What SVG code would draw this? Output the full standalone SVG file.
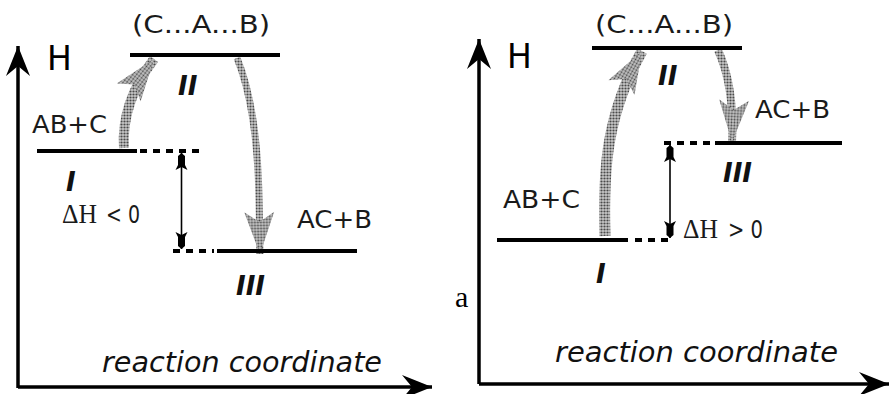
<svg xmlns="http://www.w3.org/2000/svg" width="895" height="394" viewBox="0 0 895 394">
<style>
.lbl{font-family:"DejaVu Sans",sans-serif;font-size:24px;fill:#1a1a1a}
.h{font-family:"DejaVu Sans",sans-serif;font-size:33px;fill:#000}
.num{font-family:"DejaVu Sans",sans-serif;font-weight:bold;font-style:italic;font-size:26px;fill:#111}
.rc{font-family:"DejaVu Sans",sans-serif;font-style:italic;font-size:24px;fill:#111}
.ser{font-family:"Liberation Serif",serif;font-size:27px;fill:#1a1a1a}
.axis{stroke:#000;stroke-width:3.5;fill:none}
.lvl{stroke:#000;stroke-width:4;fill:none}
.dash{stroke:#000;stroke-width:4;fill:none;stroke-dasharray:7 6}
.thin{stroke:#000;stroke-width:1.6;fill:none}
.gray{stroke:url(#dither);fill:none;stroke-linecap:butt}
</style>
<defs>
<pattern id="dither" width="3" height="3" patternUnits="userSpaceOnUse">
<rect width="3" height="3" fill="#c8c8c8"/>
<circle cx="1.5" cy="1.5" r="1.1" fill="#4a4a4a"/>
</pattern>
<marker id="gh" markerUnits="userSpaceOnUse" viewBox="-44 -16 46 32" refX="0" refY="0" markerWidth="46" markerHeight="32" orient="auto">
<path d="M0,0 L-42,-15 L-32,0 L-42,15 Z" fill="url(#dither)"/>
</marker>
<marker id="bh" markerUnits="userSpaceOnUse" viewBox="-18 -8 19 16" refX="0" refY="0" markerWidth="19" markerHeight="16" orient="auto-start-reverse">
<path d="M0,0 L-3,-3.5 L-12,-3.5 L-17,-6 L-14,0 L-17,6 L-12,3.5 L-3,3.5 Z" fill="#000"/>
</marker>
<marker id="ah" markerUnits="userSpaceOnUse" viewBox="-32 -15 33 30" refX="0" refY="0" markerWidth="33" markerHeight="30" orient="auto">
<path d="M0,0 L-30,-12 L-20,0 L-30,12 Z" fill="#000"/>
</marker>
</defs>

<g id="connectors">
<path class="axis" d="M18,388 L18,46" marker-end="url(#ah)"/>
<path class="axis" d="M18,387 L432,387" marker-end="url(#ah)"/>
<path class="axis" d="M479,384 L479,39" marker-end="url(#ah)"/>
<path class="axis" d="M479,384 L889,384" marker-end="url(#ah)"/>
<path class="gray" stroke-width="10" d="M124,148 C122,118 132,88 154,59" marker-end="url(#gh)"/>
<path class="gray" stroke-width="7" d="M237,58 C251,92 258,140 259,200 L260,254" marker-end="url(#gh)"/>
<path class="gray" stroke-width="11" d="M605,236 C603,170 606,115 642,51" marker-end="url(#gh)"/>
<path class="gray" stroke-width="8" d="M718,50 C728,72 734,102 732,142" marker-end="url(#gh)"/>
<path class="thin" d="M181.5,153 L181.5,249" marker-start="url(#bh)" marker-end="url(#bh)"/>
<path class="thin" d="M670,145 L670,238" marker-start="url(#bh)" marker-end="url(#bh)"/>
</g>

<g id="left-axis-label">
<text class="h" x="47" y="70">H</text>
<text class="rc" x="102" y="372" textLength="280" lengthAdjust="spacingAndGlyphs" transform="translate(0,-74.4) scale(1,1.2)">reaction coordinate</text>
</g>
<g id="left-I">
<path class="lvl" d="M37,151 L137,151"/>
<path class="dash" d="M140,151 L203,151"/>
<text class="lbl" x="32" y="133" textLength="75" lengthAdjust="spacingAndGlyphs">AB+C</text>
<text class="num" x="66" y="191">I</text>
</g>
<g id="left-II">
<path class="lvl" d="M130,55 L280,55"/>
<text class="lbl" x="132" y="33" textLength="138" lengthAdjust="spacingAndGlyphs">(C...A...B)</text>
<text class="num" x="178" y="95">II</text>
</g>
<g id="left-III">
<path class="dash" d="M173,251 L214,251"/>
<path class="lvl" d="M217,251 L357,251"/>
<text class="lbl" x="297" y="228" textLength="75" lengthAdjust="spacingAndGlyphs">AC+B</text>
<text class="num" x="236" y="295">III</text>
</g>
<g id="left-dH">
<text class="ser" x="62" y="223" textLength="35" lengthAdjust="spacingAndGlyphs">ΔH</text>
<text class="lbl" x="106" y="223" textLength="34" lengthAdjust="spacingAndGlyphs">&lt; 0</text>
</g>

<g id="right-axis-label">
<text class="h" x="507" y="68">H</text>
<text class="rc" x="555" y="362" textLength="283" lengthAdjust="spacingAndGlyphs" transform="translate(0,-72.4) scale(1,1.2)">reaction coordinate</text>
<text x="455" y="307" font-family="Liberation Serif, serif" font-size="30" fill="#000">a</text>
</g>
<g id="right-I">
<path class="lvl" d="M497,240 L628,240"/>
<path class="dash" d="M635,240 L672,240"/>
<text class="lbl" x="503" y="208" textLength="77" lengthAdjust="spacingAndGlyphs">AB+C</text>
<text class="num" x="596" y="283">I</text>
</g>
<g id="right-II">
<path class="lvl" d="M592,48 L742,48"/>
<text class="lbl" x="595" y="33" textLength="138" lengthAdjust="spacingAndGlyphs">(C...A...B)</text>
<text class="num" x="658" y="85">II</text>
</g>
<g id="right-III">
<path class="dash" d="M664,143 L712,143"/>
<path class="lvl" d="M715,143 L842,143"/>
<text class="lbl" x="755" y="118" textLength="75" lengthAdjust="spacingAndGlyphs">AC+B</text>
<text class="num" x="723" y="182">III</text>
</g>
<g id="right-dH">
<text class="ser" x="683" y="238" textLength="35" lengthAdjust="spacingAndGlyphs">ΔH</text>
<text class="lbl" x="728" y="238" textLength="35" lengthAdjust="spacingAndGlyphs">&gt; 0</text>
</g>
</svg>
